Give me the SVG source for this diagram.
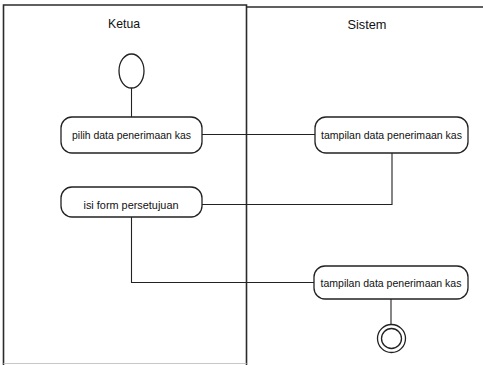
<svg xmlns="http://www.w3.org/2000/svg" width="483" height="365" viewBox="0 0 483 365">
  <style>
    .lane { fill: none; stroke: #2b2b2b; stroke-width: 1.6; }
    .node rect { fill: #ffffff; stroke: #222; stroke-width: 1.3; }
    .node text, .title { font-family: "Liberation Sans", Arial, sans-serif; fill: #111; text-anchor: middle; }
    .node text { font-size: 11.5px; }
    .title { font-size: 13.5px; }
    .conn path { fill: none; stroke: #222; stroke-width: 1.1; }
    .state { fill: #fff; stroke: #222; stroke-width: 1.3; }
  </style>
  <rect width="483" height="365" fill="#ffffff"/>

  <!-- swimlanes -->
  <g id="lanes">
    <path class="lane" d="M3.5 365 V5 H246.5 V365"/>
    <path d="M3.5 363.5 H246.5" stroke="#c8c8c8" stroke-width="1.2" fill="none"/>
    <path class="lane" d="M246.5 7 H483"/>
    <text class="title" x="124" y="28" textLength="32" lengthAdjust="spacingAndGlyphs">Ketua</text>
    <text class="title" x="367" y="29" textLength="39" lengthAdjust="spacingAndGlyphs">Sistem</text>
  </g>

  <!-- connectors -->
  <g id="connectors" class="conn">
    <path d="M131.5 88 V117"/>
    <path d="M202 134.5 H315"/>
    <path d="M392 153 V204.5 H202"/>
    <path d="M131.5 217 V282.5 H314"/>
    <path d="M391 299 V324"/>
  </g>

  <g id="start">
    <ellipse class="state" cx="131.5" cy="71" rx="12.5" ry="17"/>
  </g>

  <g id="pilih-data" class="node">
    <rect x="61" y="117" width="141" height="36" rx="11"/>
    <text x="131.5" y="139" textLength="119" lengthAdjust="spacingAndGlyphs">pilih data penerimaan kas</text>
  </g>

  <g id="tampilan-data-1" class="node">
    <rect x="315" y="117" width="153" height="36" rx="11"/>
    <text x="391.5" y="139" textLength="141" lengthAdjust="spacingAndGlyphs">tampilan data penerimaan kas</text>
  </g>

  <g id="isi-form" class="node">
    <rect x="61" y="187" width="141" height="30" rx="11"/>
    <text x="131" y="209" textLength="95" lengthAdjust="spacingAndGlyphs">isi form persetujuan</text>
  </g>

  <g id="tampilan-data-2" class="node">
    <rect x="314" y="266" width="154" height="33" rx="11"/>
    <text x="391" y="287" textLength="141" lengthAdjust="spacingAndGlyphs">tampilan data penerimaan kas</text>
  </g>

  <g id="end">
    <circle class="state" cx="391.5" cy="338.5" r="14"/>
    <circle class="state" cx="391.5" cy="338.5" r="10" stroke-width="1.6"/>
  </g>
</svg>
